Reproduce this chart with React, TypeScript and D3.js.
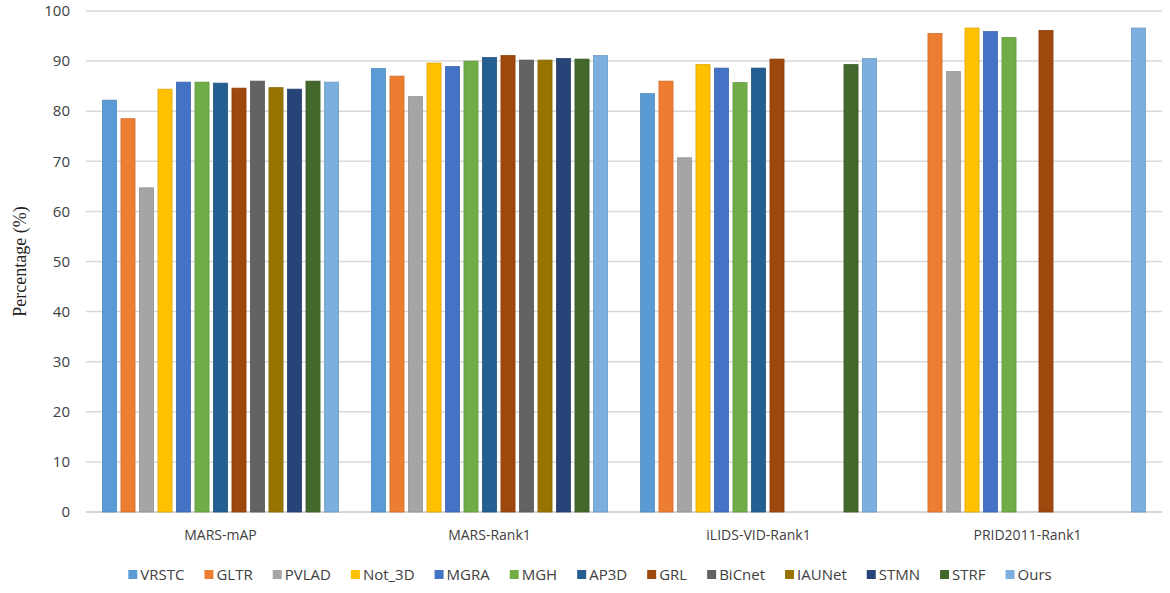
import React, { useEffect, useRef } from "react";
import * as d3 from "d3";

const categories = ["MARS-mAP", "MARS-Rank1", "iLIDS-VID-Rank1", "PRID2011-Rank1"];
const methods = ["VRSTC", "GLTR", "PVLAD", "Not_3D", "MGRA", "MGH", "AP3D", "GRL", "BiCnet", "IAUNet", "STMN", "STRF", "Ours"];
const colors = ["#5B9BD5", "#ED7D31", "#A5A5A5", "#FFC000", "#4472C4", "#70AD47", "#255E91", "#9E480E", "#636363", "#997300", "#264478", "#43682B", "#7CAFDD"];

// one array per category, in method order; null = no bar
const marsMap = [82.2, 78.5, 64.7, 84.4, 85.8, 85.8, 85.6, 84.6, 86.0, 84.7, 84.4, 86.0, 85.8];
const marsRank1 = [88.5, 87.0, 82.9, 89.6, 88.9, 90.0, 90.7, 91.1, 90.2, 90.2, 90.5, 90.4, 91.1];
const ilidsRank1 = [83.5, 86.0, 70.7, 89.3, 88.6, 85.7, 88.6, 90.4, null, null, null, 89.3, 90.5];
const pridRank1 = [null, 95.5, 87.9, 96.6, 95.9, 94.7, null, 96.1, null, null, null, null, 96.6];
const seriesByCategory = [marsMap, marsRank1, ilidsRank1, pridRank1];
const yTicks = [0, 10, 20, 30, 40, 50, 60, 70, 80, 90, 100];

const W = 1170;
const H = 593;

export default function App() {
  const svgRef = useRef<SVGSVGElement>(null);

  useEffect(() => {
    const svg = d3.select(svgRef.current);
    svg.selectAll("*").remove();

    const margin = { top: 11, right: 8, bottom: 81, left: 86 };
    const x0 = d3.scaleBand().domain(categories).range([margin.left, W - margin.right]);
    const x1 = d3
      .scaleBand()
      .domain(methods)
      .range([0, x0.bandwidth()])
      .paddingInner(0.24)
      .paddingOuter(0.89);
    const y = d3.scaleLinear().domain([0, 100]).range([H - margin.bottom, margin.top]);

    // gridlines
    svg
      .append("g")
      .selectAll("line")
      .data(yTicks)
      .join("line")
      .attr("x1", margin.left)
      .attr("x2", W - margin.right)
      .attr("y1", (d) => y(d))
      .attr("y2", (d) => y(d))
      .attr("stroke", (d) => (d === 0 ? "#c8c8c8" : "#d9d9d9"))
      .attr("stroke-width", 1.5);

    // y tick labels
    svg
      .append("g")
      .selectAll("text")
      .data(yTicks)
      .join("text")
      .attr("x", 70)
      .attr("y", (d) => y(d))
      .attr("dy", "0.35em")
      .attr("text-anchor", "end")
      .style("font-family", "'Open Sans', sans-serif")
      .style("font-size", "15px")
      .style("fill", "#404040")
      .text((d) => d);

    // y axis title
    svg
      .append("text")
      .attr("transform", `translate(26, ${(y(0) + y(100)) / 2}) rotate(-90)`)
      .attr("text-anchor", "middle")
      .style("font-family", "'Liberation Serif', 'Times New Roman', serif")
      .style("font-size", "18px")
      .style("fill", "#222")
      .text("Percentage (%)");

    // bars
    const groups = svg
      .append("g")
      .selectAll("g")
      .data(categories)
      .join("g")
      .attr("transform", (c) => `translate(${x0(c)},0)`);

    groups
      .selectAll("rect")
      .data((c, i) =>
        methods
          .map((m, j) => ({ m, color: colors[j], v: seriesByCategory[i][j] }))
          .filter((d) => d.v !== null)
      )
      .join("rect")
      .attr("x", (d) => x1(d.m) as number)
      .attr("y", (d) => y(d.v as number))
      .attr("width", x1.bandwidth())
      .attr("height", (d) => y(0) - y(d.v as number))
      .attr("fill", (d) => d.color)
      .attr("stroke", (d) => (d3.color(d.color) as d3.RGBColor).darker(0.35).formatHex())
      .attr("stroke-width", 0.8);

    // category labels
    svg
      .append("g")
      .selectAll("text")
      .data(categories)
      .join("text")
      .attr("x", (c) => (x0(c) as number) + x0.bandwidth() / 2)
      .attr("y", y(0) + 28)
      .attr("text-anchor", "middle")
      .style("font-family", "'Open Sans', sans-serif")
      .style("font-size", "14px")
      .style("fill", "#404040")
      .text((c) => c);

    // legend, centred, laid out by measured text width
    const legend = svg.append("g");
    const items = legend
      .selectAll("g")
      .data(methods)
      .join("g");
    items
      .append("rect")
      .attr("width", 9)
      .attr("height", 9)
      .attr("y", -5)
      .attr("fill", (m, i) => colors[i]);
    items
      .append("text")
      .attr("x", 12)
      .attr("dy", "0.35em")
      .style("font-family", "'Open Sans', sans-serif")
      .style("font-size", "15px")
      .style("fill", "#404040")
      .text((m) => m);

    let cursor = 0;
    items.each(function () {
      const g = d3.select(this);
      const tw = (g.select("text").node() as SVGTextElement).getComputedTextLength();
      g.attr("transform", `translate(${cursor},0)`);
      cursor += 12 + tw + 20;
    });
    const total = cursor - 20;
    legend.attr("transform", `translate(${590 - total / 2}, 575)`);
  }, []);

  return (
    <svg
      ref={svgRef}
      width={W}
      height={H}
      style={{ position: "absolute", left: 0, top: 0, background: "white", display: "block" }}
    />
  );
}
